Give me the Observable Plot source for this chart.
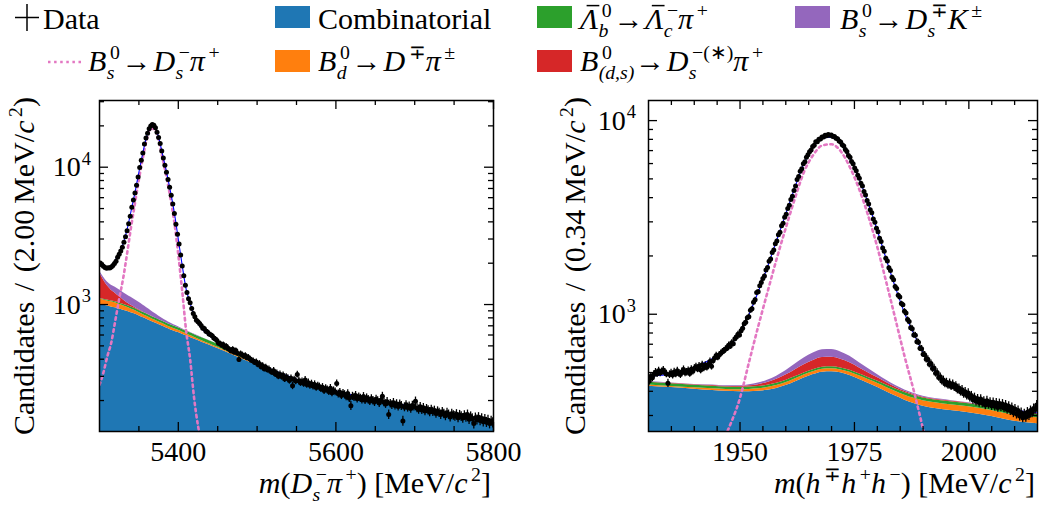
<!DOCTYPE html>
<html><head><meta charset="utf-8">
<script src="https://cdn.jsdelivr.net/npm/d3@7"></script>
<script src="https://cdn.jsdelivr.net/npm/@observablehq/plot@0.6"></script>
<style>
body{margin:0;background:#fff;}
#wrap{width:1050px;height:507px;overflow:hidden;background:#fff;}
#row{display:flex;}
svg text{font-family:'Liberation Serif',serif;}
</style></head>
<body><div id="wrap"><svg id="legend" width="1050" height="88"></svg><div id="row"></div></div>
<script>
// ---------------- LEFT PANEL DATA: m(Ds- pi+) ----------------
const leftBinStart = 5300, leftBinWidth = 2;
const leftCounts = [
2010,1945,1900,1860,1835,1850,1845,1880,1925,1990,
2070,2210,2320,2450,2610,2840,3110,3440,3870,4400,
5120,5760,6480,7400,8500,9950,11250,12700,14750,16300,
17650,19050,19950,20450,20200,19400,17950,16450,14850,13100,
11650,10350,9200,8150,7150,6250,5400,4600,3850,3250,
2760,2290,1910,1620,1380,1225,1100,1030,935,860,
815,770,748,728,705,672,668,640,632,611,
603,592,570,561,548,522,520,505,512,488,
496,478,470,459,472,450,462,441,398,438,
431,420,425,410,412,401,392,388,379,382,
366,371,352,358,341,349,335,338,327,322,
330,312,316,301,310,299,305,287,296,291,
280,290,256,284,277,309,279,270,275,266,
282,262,270,258,265,255,262,249,256,252,
244,250,237,245,240,233,246,228,236,232,
266,224,230,218,226,221,214,225,208,183,
215,211,218,206,212,208,203,214,201,209,
203,198,206,200,195,204,199,192,201,215,
194,189,196,158,190,186,193,184,189,181,
188,183,142,179,186,178,182,175,184,181,
198,176,172,180,171,177,168,174,170,165,
172,166,169,161,167,163,158,165,160,155,
163,158,152,160,156,154,159,150,157,153,
149,156,151,158,146,153,148,136,150,145,
151,143,148,140,146,139,144,136,142,138];
const leftGrid  = [5300,5305,5310,5315,5320,5325,5330,5335,5340,5345,5350,5355,5360,5365,5370,5375,5380,5385,5390,5395,5400,5405,5410,5415,5420,5430,5440,5450,5470,5500,5520,5550,5600,5650,5700,5750,5800];
const leftComb  = [1010,992,975,960,946,928,910,892,873,855,830,805,782,758,736,715,695,675,656,640,625,608,592,576,560,532,505,478,428,362,325,282,232,200,178,155,137];
const leftBdDPi = [90,89,88,86,83,77,70,62,55,50,45,42,40,38,36,34,32,30,28,26,24,22,20,18,17,13,11,10,7,5,4,3,2,1.5,1,1,1];
const leftLbLcPi= [12,13,15,17,20,23,26,28,30,30,30,30,30,30,29,29,28,28,28,28,28,28,28,28,28,27,26,25,20,10,3,0.5,0.3,0.3,0.3,0.3,0.3];
const leftDsStar= [590,420,290,210,160,115,78,50,30,18,10,6,4,3,2,1.5,1,0.8,0.6,0.5,0.5,0.4,0.4,0.4,0.4,0.3,0.3,0.3,0.3,0.2,0.2,0.2,0.2,0.2,0.2,0.2,0.2];
const leftDsK   = [50,70,90,110,130,138,140,142,140,132,122,108,92,76,60,46,35,27,20,15,12,9,7,5,4,3,2,1.5,1,0.5,0.3,0.3,0.3,0.3,0.3,0.3,0.3];
const leftSignal= [260,320,420,530,760,1100,1550,2350,3650,5450,8150,11700,16000,19100,18950,15700,11600,8500,5950,3950,2300,1250,640,400,210,90,45,22,6,1,0.5,0.2,0.1,0.1,0.1,0.1,0.1];
const leftXMajor = [5400,5600,5800];
const leftXMinor = [5350,5450,5500,5550,5650,5700,5750];
const leftYMajor = [1000,10000];
const leftYMinor = [200,300,400,500,600,700,800,900,2000,3000,4000,5000,6000,7000,8000,9000,20000,30000];

// ---------------- RIGHT PANEL DATA: m(h h h) ----------------
const rightBinStart = 1930, rightBinWidth = 0.34;
const rightCounts = [
452,478,470,488,502,493,510,498,505,515,500,492,440,488,497,485,503,492,510,496,488,
505,518,498,502,512,495,520,508,526,535,522,540,515,548,528,545,532,552,570,538,575,
595,612,600,618,628,640,648,662,
668,692,684,712,705,748,762,788,781,822,
846,893,910,958,972,1048,1068,1152,1188,1296,
1305,1402,1458,1528,1575,1690,1742,1878,1930,2085,
2148,2315,2390,2572,2655,2862,2951,3172,3285,3512,
3650,3912,4068,4355,4590,4968,5142,5475,5640,5978,
6135,6470,6655,6912,7045,7352,7455,7768,7780,8012,
8040,8235,8228,8395,8360,8485,8392,8420,8278,8285,
8110,8065,7842,7760,7512,7390,7085,6920,6600,6458,
6140,5985,5688,5515,5218,5035,4752,4590,4302,4128,
3862,3712,3462,3338,3105,2985,2778,2665,2468,2372,
2198,2112,1948,1882,1738,1682,1552,1508,1392,1358,
1252,1228,1135,1118,1036,1015,938,918,852,842,
782,778,722,716,668,664,622,618,585,586,
552,556,524,528,496,500,472,476,452,458,
438,446,430,442,424,436,420,428,408,416,
398,408,388,398,380,392,372,380,362,372,
355,366,350,365,348,356,340,358,342,352,
337,351,335,348,330,346,333,344,328,340,
322,335,318,330,310,324,305,318,298,310,
292,306,294,312,300,318,310,326,322,340];
const rightGrid  = [1930,1935,1940,1944,1947,1950,1952,1954,1956,1958,1960,1962,1964,1966,1968,1970,1972,1974,1976,1978,1980,1982,1984,1986,1988,1990,1993,1996,2000,2005,2010,2015];
const rightComb  = [425,418,410,404,400,398,398,400,405,414,428,447,468,488,502,505,498,483,462,440,420,398,378,360,346,335,325,318,310,296,280,272];
const rightBdDPi = [6,6,7,8,9,10,11,12,13,14,15,16,17,17,18,18,18,19,19,20,20,21,21,22,22,22,23,23,23,22,21,20];
const rightLbLcPi= [14,14,13,13,12,12,12,12,12,12,12,12,12,12,12,12,12,12,12,12,12,12,12,12,12,12,12,12,12,12,12,12];
const rightDsStar= [2,2,2,3,3,4,6,9,14,21,30,41,52,60,65,64,58,48,37,27,19,13,9,6,5,4,3,3,2,2,2,2];
const rightDsK   = [2,2,2,3,3,3,5,8,12,18,26,36,46,54,59,59,53,44,34,25,17,12,8,6,5,4,3,3,2,2,2,2];
const rightSignal= [30,50,100,160,240,370,570,870,1300,1930,2790,3970,5450,6650,7450,7550,6950,5750,4450,3230,2220,1450,935,600,400,255,126,70,28,8,3,2];
const rightXMajor = [1950,1975,2000];
const rightXMinor = [1935,1940,1945,1955,1960,1965,1970,1980,1985,1990,1995,2005,2010];
const rightYMajor = [1000,10000];
const rightYMinor = [300,400,500,600,700,800,900,2000,3000,4000,5000,6000,7000,8000,9000];

// ---------------- STYLE ----------------
const colors = {comb:"#1f77b4", bd:"#ff7f0e", lb:"#2ca02c", dst:"#d62728", dsk:"#9467bd", sig:"#e377c2", fit:"#0000ff"};
const FONT = "'Liberation Serif', serif";
const FS = 28;   // tick labels
const LS = 30;   // axis labels and legend

// One <text> per label; sub/superscripts as positioned <tspan>s (widths measured first).
function mathText(parent, tokens, size, opts = {}) {
  const g = parent.append("g");
  const ss = size * 0.66;
  const pieces = [];
  const overs = [];
  const styleOf = (fs, italic) => `font-family:'Liberation Serif',serif;font-size:${fs}px;font-style:${italic ? "italic" : "normal"};white-space:pre`;
  const measure = (fs, italic, str) => {
    const t = g.append("text").attr("style", styleOf(fs, italic)).text(str);
    const w = t.node().getComputedTextLength();
    t.remove();
    return w;
  };
  let cx = 0;
  for (const tk of tokens) {
    if (tk.sp) { cx += tk.sp * size; continue; }
    if (tk.t != null) {
      const w0 = measure(size, tk.i, tk.t);
      pieces.push({x: cx, y: 0, fs: size, it: tk.i, s: tk.t});
      if (tk.over) overs.push([cx + 0.22*size, cx + w0 + 0.04*size]);
      cx += w0;
    }
    let w = 0;
    if (tk.sup != null) {
      const dx = tk.i ? 0.12*size : 0.04*size;
      pieces.push({x: cx + dx, y: -0.4*size, fs: ss, it: tk.supI, s: tk.sup});
      w = Math.max(w, dx + measure(ss, tk.supI, tk.sup));
    }
    if (tk.sub != null) {
      const dx = 0.01*size;
      pieces.push({x: cx + dx, y: 0.27*size, fs: ss, it: !tk.subU, s: tk.sub});
      w = Math.max(w, dx + measure(ss, !tk.subU, tk.sub));
    }
    cx += w;
  }
  const anchor = opts.anchor || "start";
  const shift = anchor === "end" ? -cx : anchor === "middle" ? -cx/2 : 0;
  const text = g.append("text").attr("text-anchor", "start").attr("fill", "black")
    .attr("style", styleOf(size, false));
  for (const p of pieces) {
    text.append("tspan").attr("x", p.x + shift).attr("y", p.y).attr("style", styleOf(p.fs, p.it)).text(p.s);
  }
  for (const [a, b] of overs) {
    g.append("line").attr("x1", a + shift).attr("x2", b + shift).attr("y1", -0.78*size).attr("y2", -0.78*size)
      .attr("stroke", "black").attr("stroke-width", size*0.05);
  }
  g.attr("transform", `translate(${opts.x||0},${opts.y||0}) rotate(${opts.rotate||0})`);
  return cx;
}

// ---------------- LEGEND ----------------
const leg = d3.select("#legend");
leg.append("line").attr("x1",27).attr("x2",27).attr("y1",4).attr("y2",31).attr("stroke","black").attr("stroke-width",1.5);
leg.append("line").attr("x1",15).attr("x2",39).attr("y1",17.5).attr("y2",17.5).attr("stroke","black").attr("stroke-width",1.5);
mathText(leg, [{t:"Data"}], LS, {x:43, y:29});
const swatch = (x, y, c) => leg.append("rect").attr("x",x).attr("y",y).attr("width",35).attr("height",22).attr("fill",c);
swatch(275, 6, colors.comb);
mathText(leg, [{t:"Combinatorial"}], LS, {x:318, y:29});
swatch(537, 6, colors.lb);
mathText(leg, [{t:"Λ", i:true, over:true, sup:"0", sub:"b"}, {sp:0.06}, {t:"→"}, {sp:0.06}, {t:"Λ", i:true, over:true, sup:"−", sub:"c"}, {t:"π", i:true, sup:"+"}], LS, {x:580, y:29});
swatch(795, 6, colors.dsk);
mathText(leg, [{t:"B", i:true, sup:"0", sub:"s"}, {sp:0.06}, {t:"→"}, {sp:0.06}, {t:"D", i:true, sup:"∓", sub:"s"}, {t:"K", i:true, sup:"±"}], LS, {x:840, y:29});
leg.append("line").attr("x1",48).attr("x2",82).attr("y1",62).attr("y2",62).attr("stroke",colors.sig).attr("stroke-width",2.5).attr("stroke-dasharray","2.5,3.6");
mathText(leg, [{t:"B", i:true, sup:"0", sub:"s"}, {sp:0.06}, {t:"→"}, {sp:0.06}, {t:"D", i:true, sup:"−", sub:"s"}, {t:"π", i:true, sup:"+"}], LS, {x:88, y:71});
swatch(275, 50, colors.bd);
mathText(leg, [{t:"B", i:true, sup:"0", sub:"d"}, {sp:0.06}, {t:"→"}, {sp:0.06}, {t:"D", i:true, sup:"∓"}, {t:"π", i:true, sup:"±"}], LS, {x:318, y:71});
swatch(537, 50, colors.dst);
mathText(leg, [{t:"B", i:true, sup:"0", sub:"(d,s)"}, {sp:0.02}, {t:"→"}, {sp:0.06}, {t:"D", i:true, sup:"−(∗)", sub:"s"}, {t:"π", i:true, sup:"+"}], LS, {x:580, y:71});

// ---------------- PANELS ----------------
function makePanel(cfg) {
  const W = 525, H = 419, mt = 8, mb = 80;
  const ml = cfg.ml, mr = cfg.mr;
  const fh = H - mt - mb, fw = W - ml - mr;
  const data = cfg.counts.map((v, i) => ({m: cfg.binStart + cfg.binW * (i + 0.5), v}));
  const fit = cfg.grid.map((m, k) => {
    const c1 = cfg.comb[k], c2 = c1 + cfg.bd[k], c3 = c2 + cfg.lb[k], c4 = c3 + cfg.dst[k], c5 = c4 + cfg.dsk[k];
    return {m, c0: cfg.yDomain[0] * 0.5, c1, c2, c3, c4, c5, sig: cfg.sig[k], tot: c5 + cfg.sig[k]};
  });
  const curve = "monotone-x";
  const band = (lo, hi, c) => Plot.areaY(fit, {x: "m", y1: lo, y2: hi, fill: c, curve, clip: true});
  const tk = {stroke: "black", strokeWidth: 1.3};
  const plot = Plot.plot({
    width: W, height: H, marginTop: mt, marginBottom: mb, marginLeft: ml, marginRight: mr,
    style: {fontFamily: FONT, fontSize: FS + "px", color: "black", background: "white"},
    x: {domain: cfg.xDomain, label: null},
    y: {type: "log", domain: cfg.yDomain, axis: null, label: null},
    marks: [
      band("c0", "c1", colors.comb),
      band("c1", "c2", colors.bd),
      band("c2", "c3", colors.lb),
      band("c3", "c4", colors.dst),
      band("c4", "c5", colors.dsk),
      Plot.line(fit, {x: "m", y: "sig", stroke: colors.sig, strokeWidth: 2.6, strokeDasharray: "2.5,3.6", curve, clip: true}),
      Plot.line(fit, {x: "m", y: "tot", stroke: colors.fit, strokeWidth: 1.1, curve, clip: true}),
      Plot.ruleX(data, {x: "m", y1: d => d.v - Math.sqrt(d.v), y2: d => d.v + Math.sqrt(d.v), stroke: "black", strokeWidth: 1.3, clip: true}),
      Plot.ruleY(data, {y: "v", x1: d => d.m - cfg.binW/2, x2: d => d.m + cfg.binW/2, stroke: "black", strokeWidth: 1.3, clip: true}),
      Plot.dot(data, {x: "m", y: "v", r: 2.5, fill: "black", clip: true}),
      Plot.frame({stroke: "black", strokeWidth: 1.5}),
      Plot.ruleX(cfg.xMajor, {x: d => d, insetTop: fh - 9, ...tk}),
      Plot.ruleX(cfg.xMajor, {x: d => d, insetBottom: fh - 9, ...tk}),
      Plot.ruleX(cfg.xMinor, {x: d => d, insetTop: fh - 5, ...tk}),
      Plot.ruleX(cfg.xMinor, {x: d => d, insetBottom: fh - 5, ...tk}),
      Plot.ruleY(cfg.yMajor, {y: d => d, insetRight: fw - 9, ...tk}),
      Plot.ruleY(cfg.yMajor, {y: d => d, insetLeft: fw - 9, ...tk}),
      Plot.ruleY(cfg.yMinor, {y: d => d, insetRight: fw - 5, ...tk}),
      Plot.ruleY(cfg.yMinor, {y: d => d, insetLeft: fw - 5, ...tk}),
      Plot.axisX(cfg.xMajor, {tickSize: 0, tickPadding: 10, fontSize: FS, fontFamily: FONT, fill: "black", label: null, tickFormat: d => String(d)})
    ]
  });
  document.getElementById("row").appendChild(plot);
  const svg = d3.select(plot);
  const ys = plot.scale("y");
  for (const v of cfg.yMajor) {
    const e = Math.round(Math.log10(v));
    mathText(svg, [{t: "10", sup: String(e)}], FS, {x: ml - cfg.yGap, y: ys.apply(v) + 9.5, anchor: "end"});
  }
  mathText(svg, cfg.xLabel, LS, {x: W - mr - 2, y: 401, anchor: "end"});
  mathText(svg, cfg.yLabel, LS, {x: cfg.yLabelX, y: mt - 3, rotate: -90, anchor: "end"});
}

makePanel({
  counts: leftCounts, binStart: leftBinStart, binW: leftBinWidth,
  grid: leftGrid, comb: leftComb, bd: leftBdDPi, lb: leftLbLcPi, dst: leftDsStar, dsk: leftDsK, sig: leftSignal,
  xDomain: [5300, 5800], yDomain: [119, 30600],
  xMajor: leftXMajor, xMinor: leftXMinor, yMajor: leftYMajor, yMinor: leftYMinor,
  ml: 99, mr: 32, yGap: 8, yLabelX: 34,
  xLabel: [{t:"m", i:true}, {t:"("}, {t:"D", i:true, sup:"−", sub:"s"}, {t:"π", i:true, sup:"+"}, {t:")"}, {sp:0.25}, {t:"[MeV"}, {t:"/"}, {t:"c", i:true, sup:"2"}, {t:"]"}],
  yLabel: [{t:"Candidates"}, {sp:0.35}, {t:"/"}, {sp:0.35}, {t:"(2.00"}, {sp:0.2}, {t:"MeV"}, {t:"/"}, {t:"c", i:true, sup:"2"}, {t:")"}]
});
makePanel({
  counts: rightCounts, binStart: rightBinStart, binW: rightBinWidth,
  grid: rightGrid, comb: rightComb, bd: rightBdDPi, lb: rightLbLcPi, dst: rightDsStar, dsk: rightDsK, sig: rightSignal,
  xDomain: [1930, 2015], yDomain: [248, 12700],
  xMajor: rightXMajor, xMinor: rightXMinor, yMajor: rightYMajor, yMinor: rightYMinor,
  ml: 123, mr: 13, yGap: 12, yLabelX: 60,
  xLabel: [{t:"m", i:true}, {t:"("}, {t:"h", i:true, sup:"∓"}, {t:"h", i:true, sup:"+"}, {t:"h", i:true, sup:"−"}, {t:")"}, {sp:0.25}, {t:"[MeV"}, {t:"/"}, {t:"c", i:true, sup:"2"}, {t:"]"}],
  yLabel: [{t:"Candidates"}, {sp:0.35}, {t:"/"}, {sp:0.35}, {t:"(0.34"}, {sp:0.2}, {t:"MeV"}, {t:"/"}, {t:"c", i:true, sup:"2"}, {t:")"}]
});
</script></body></html>
